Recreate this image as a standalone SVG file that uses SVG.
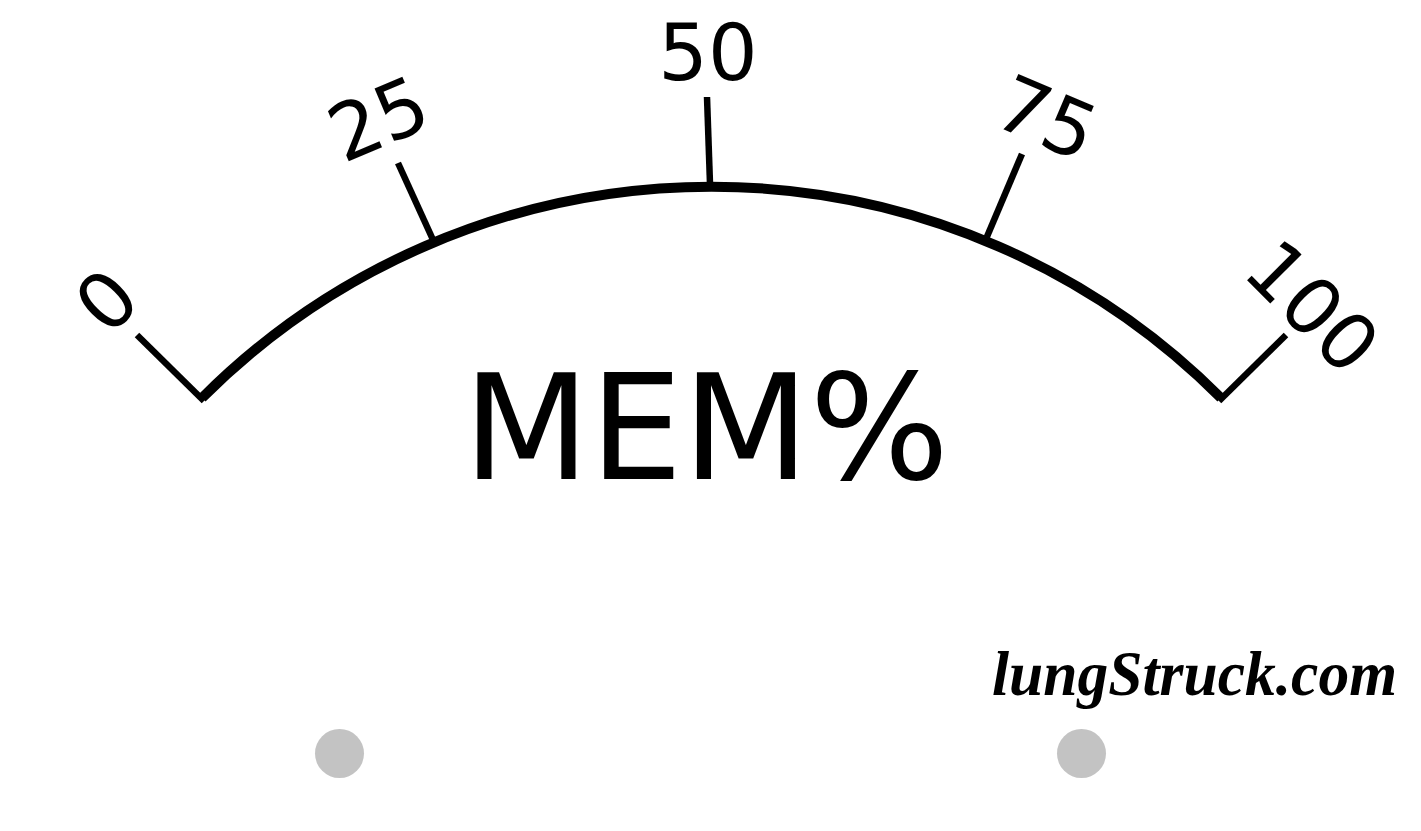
<svg xmlns="http://www.w3.org/2000/svg" width="1421" height="831" viewBox="0 0 1421 831">
<style>
.tick{stroke:#000;stroke-width:6.5;fill:none;stroke-linecap:butt}
.arc{stroke:#000;stroke-width:10;fill:none}
.lbl{font-family:"DejaVu Sans","Noto Sans",sans-serif;font-size:78px;fill:#000;text-anchor:middle}
.title{font-family:"DejaVu Sans","Noto Sans",sans-serif;font-size:147px;fill:#000;text-anchor:middle}
.brand{font-family:"Liberation Serif",serif;font-style:italic;font-weight:bold;font-size:64px;fill:#000}
.dot{fill:#c3c3c3}
</style>
<rect width="1421" height="831" fill="#fff"/>
<g id="scale">
<path class="arc" d="M202,398 A720,720 0 0 1 1221,398"/>
<line class="tick" x1="137" y1="335" x2="204" y2="401"/>
<line class="tick" x1="398" y1="163" x2="434" y2="242"/>
<line class="tick" x1="707" y1="97" x2="710" y2="184"/>
<line class="tick" x1="1022" y1="154" x2="986" y2="239"/>
<line class="tick" x1="1286" y1="335" x2="1219" y2="401"/>
</g>
<g id="labels">
<text class="lbl" transform="rotate(-45 106 300)" x="106" y="328.4">0</text>
<text class="lbl" transform="rotate(-23 378 118)" x="378" y="146.4">25</text>
<text class="lbl" x="708" y="80">50</text>
<text class="lbl" transform="rotate(23 1047 117)" x="1047" y="145.4">75</text>
<text class="lbl" transform="rotate(45 1313 306)" x="1313" y="334.4">100</text>
</g>
<g id="title"><text class="title" x="706" y="479">MEM%</text></g>
<g id="brand"><text class="brand" x="992" y="695" textLength="405" lengthAdjust="spacingAndGlyphs">lungStruck.com</text></g>
<g id="dot-left"><circle class="dot" cx="339.5" cy="753.5" r="24.5"/></g>
<g id="dot-right"><circle class="dot" cx="1081.5" cy="753.5" r="24.5"/></g>
</svg>
